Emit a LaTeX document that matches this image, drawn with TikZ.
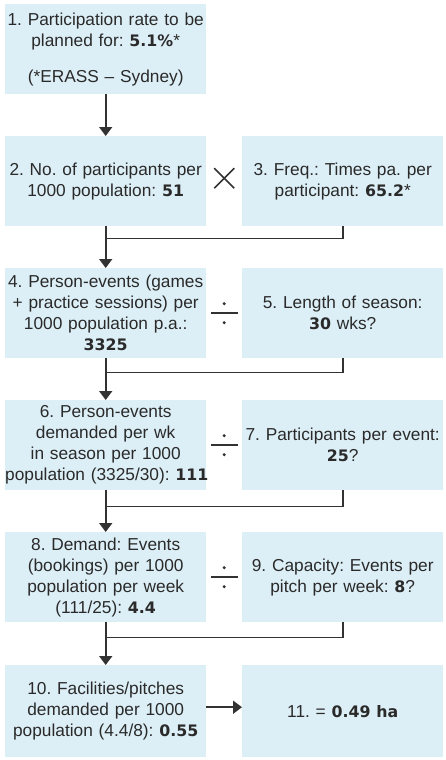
\documentclass[tikz,border=0pt]{standalone}
\usepackage{fontspec}
\setmainfont{Liberation Sans}
\newfontfamily\heavyfont{DejaVu Sans}[BoldFont={DejaVu Sans Bold}]
\usetikzlibrary{arrows.meta,calc}
\definecolor{boxfill}{RGB}{221,239,246}
\definecolor{ink}{RGB}{42,42,42}
\definecolor{linec}{RGB}{50,50,50}
\frenchspacing
\newcommand{\B}[1]{{\heavyfont\bfseries\fontsize{15.8}{21}\selectfont #1}}
\tikzset{
  box/.style={anchor=north west, fill=boxfill, text width=201pt, minimum height=90pt,
    inner sep=0pt, align=center, text=ink, font=\fontsize{17.3}{21}\selectfont\frenchspacing},
  conn/.style={draw=linec, line width=1.8pt},
  arr/.style={conn, -{Triangle[width=13pt,length=9pt]}},
}
\begin{document}
\begin{tikzpicture}[x=1pt,y=-1pt]
\useasboundingbox (0,0) rectangle (445,760);
% boxes
\node[box] (b1) at (5,4) {1. Participation rate to be\\planned for: \B{5.1\%}*\\[15pt](*ERASS – Sydney)};
\node[box] (b2) at (5,136) {2. No. of participants per\\1000 population: \B{51}};
\node[box] (b3) at (242,136) {3. Freq.: Times pa. per\\participant: \B{65.2}*};
\node[box] (b4) at (5,268) {4. Person-events (games\\+ practice sessions) per\\1000 population p.a.:\\\B{3325}};
\node[box] (b5) at (242,268) {5. Length of season:\\\B{30} wks?};
\node[box] (b6) at (5,400) {6. Person-events\\demanded per wk\\in season per 1000\\\mbox{population (3325/30): \B{111}}};
\node[box] (b7) at (242,400) {7. Participants per event:\\\B{25}?};
\node[box] (b8) at (5,532) {8. Demand: Events\\(bookings) per 1000\\population per week\\(111/25): \B{4.4}};
\node[box] (b9) at (242,532) {9. Capacity: Events per\\pitch per week: \B{8}?};
\node[box, minimum height=92pt] (b10) at (5,665) {10. Facilities/pitches\\demanded per 1000\\population (4.4/8): \B{0.55}};
\node[box, minimum height=92pt] (b11) at (242,665) {11. = \B{0.49 ha}};
% connectors
\draw[arr] (b1.south) -- (b1.south |- b2.north);
\coordinate (j2) at ($(b2.south)+(0,12)$);
\draw[conn] (b3.south) |- (j2);
\draw[arr] (b2.south) -- (b2.south |- b4.north);
\coordinate (j4) at ($(b4.south)+(0,14)$);
\draw[conn] (b5.south) |- (j4);
\draw[arr] (b4.south) -- (b4.south |- b6.north);
\coordinate (j6) at ($(b6.south)+(0,16)$);
\draw[conn] (b7.south) |- (j6);
\draw[arr] (b6.south) -- (b6.south |- b8.north);
\coordinate (j8) at ($(b8.south)+(0,15)$);
\draw[conn] (b9.south) |- (j8);
\draw[arr] (b8.south) -- (b8.south |- b10.north);
\coordinate (a10) at ($(b10.east)+(0,-4)$);
\draw[arr] (a10) -- (a10 -| b11.west);
% operators
\coordinate (o1) at ($(b2.east)!0.5!(b3.west)+(0,-3)$);
\draw[conn, line width=1.6pt] ($(o1)+(-10,-10)$) -- ($(o1)+(10,10)$);
\draw[conn, line width=1.6pt] ($(o1)+(-10,10)$) -- ($(o1)+(10,-10)$);
\foreach \a/\b in {b4/b5, b6/b7, b8/b9}{
  \coordinate (od) at ($(\a.east)!0.5!(\b.west)$);
  \draw[conn, line width=1.6pt] ($(od)+(-13.5,0)$) -- ($(od)+(13.5,0)$);
  \fill[linec] ($(od)+(0,-9.5)$) circle (1.7pt);
  \fill[linec] ($(od)+(0,9.5)$) circle (1.7pt);
}
\end{tikzpicture}
\end{document}
